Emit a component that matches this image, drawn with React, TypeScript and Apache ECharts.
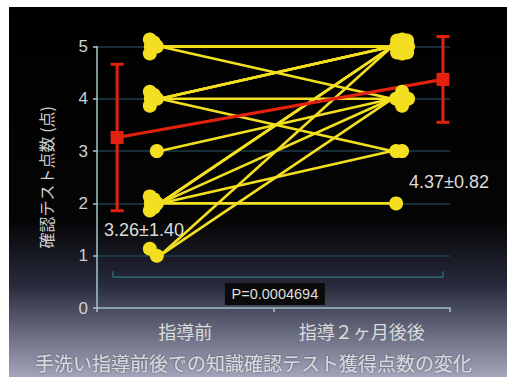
import React, { useEffect, useRef } from "react";
import * as echarts from "echarts";

// Axis categories and tick values
const categories = ["指導前", "指導２ヶ月後後"];
const yTickMax = 5;

// Test score of each participant before and two months after the instruction
const scoreBefore = [5, 5, 5, 5, 5, 4, 4, 4, 4, 4, 3, 2, 2, 2, 2, 2, 2, 1, 1];
const scoreAfter = [5, 5, 5, 5, 4, 5, 5, 5, 4, 3, 4, 2, 5, 5, 5, 4, 3, 5, 4];

// Group summary (mean ± SD) and the test result
const meanScores = [3.26, 4.37];
const sdScores = [1.4, 0.82];
const pValue = "0.0004694";

const titleText = "手洗い指導前後での知識確認テスト獲得点数の変化";
const yAxisName = "確認テスト点数 (点)";

// Horizontal placement on the hidden 0..1 value axis
const X_LEFT = 0.178;
const X_RIGHT = 0.836;
const X_ERR = [0.057, 0.98];

const YELLOW = "#f3df20";
const RED = "#e2210f";
const FONT = "'Liberation Sans', 'Noto Sans CJK JP', sans-serif";
const JP_FONT = "'Noto Sans CJK JP', sans-serif";

// Small pixel offsets so that markers of equal scores sit side by side
const leftJitter = [
  [-3, 0],
  [-10, -7],
  [-10, 7],
  [-9, 0],
  [-6, -4],
  [-6, 4],
];
const rightJitter = [
  [4, 0],
  [10, 0],
  [10, -7],
  [10, 7],
  [16, 0],
  [5, -6],
  [5, 6],
  [15, -6],
  [15, 6],
  [8, -3],
  [8, 3],
];

function jittered(scores: number[], x: number, pattern: number[][]) {
  const seen: Record<number, number> = {};
  return scores.map((s) => {
    const k = seen[s] || 0;
    seen[s] = k + 1;
    return { value: [x, s], symbolOffset: pattern[k % pattern.length] };
  });
}

export default function App() {
  const ref = useRef<HTMLDivElement>(null);

  useEffect(() => {
    if (!ref.current) return;
    const chart = echarts.init(ref.current, null, { renderer: "svg" });

    const pairSeries = scoreBefore.map((b, i) => ({
      type: "line",
      xAxisIndex: 1,
      data: [
        [X_LEFT, b],
        [X_RIGHT, scoreAfter[i]],
      ],
      symbol: "none",
      silent: true,
      lineStyle: { color: YELLOW, width: 2.6 },
      z: 3,
    }));

    const option: any = {
      animation: false,
      backgroundColor: "#ffffff",
      graphic: [
        {
          type: "rect",
          z: -100,
          silent: true,
          shape: { x: 9, y: 7, width: 498, height: 370 },
          style: {
            fill: new echarts.graphic.LinearGradient(0, 0, 0, 1, [
              { offset: 0, color: "#000000" },
              { offset: 0.58, color: "#050506" },
              { offset: 0.75, color: "#272a3b" },
              { offset: 1, color: "#a3a5bb" },
            ]),
          },
        },
      ],
      title: {
        text: titleText,
        left: "center",
        top: 348,
        textStyle: {
          color: "#d9d9df",
          fontSize: 19,
          fontWeight: "normal",
          fontFamily: JP_FONT,
          textShadowColor: "rgba(0,0,0,0.45)",
          textShadowBlur: 2,
        },
      },
      grid: { left: 97, right: 57, top: 46.5, bottom: 70 },
      xAxis: [
        {
          type: "category",
          data: categories,
          boundaryGap: true,
          axisLine: { lineStyle: { color: "#a9c3cc", width: 1.5 } },
          axisTick: { show: true, length: 4, lineStyle: { color: "#a9c3cc", width: 1.5 } },
          axisLabel: {
            color: "#dcdcdc",
            fontSize: 18,
            fontFamily: JP_FONT,
            margin: 14,
          },
          splitLine: { show: false },
        },
        {
          type: "value",
          min: 0,
          max: 1,
          show: false,
          splitLine: { show: false },
        },
      ],
      yAxis: {
        type: "value",
        min: 0,
        max: yTickMax,
        interval: 1,
        name: yAxisName,
        nameLocation: "middle",
        nameRotate: 90,
        nameGap: 43,
        nameTextStyle: { color: "#cfcfcf", fontSize: 16, fontFamily: JP_FONT },
        axisLine: { show: true, lineStyle: { color: "#a9c3cc", width: 1.5 } },
        axisTick: { show: true, length: 4, lineStyle: { color: "#a9c3cc", width: 1.5 } },
        axisLabel: { color: "#d0d0d0", fontSize: 17, fontFamily: FONT, margin: 9 },
        splitLine: { show: true, lineStyle: { color: "#1f3d4c", width: 1.5 } },
      },
      series: [
        ...pairSeries,
        {
          type: "custom",
          xAxisIndex: 1,
          clip: false,
          silent: true,
          z: 1,
          data: [[0]],
          renderItem: (_p: any, api: any) => {
            const a = api.coord([0.045, 0.59]);
            const b = api.coord([0.98, 0.59]);
            const c = api.coord([0.504, 0.27]);
            const stroke = { stroke: "#2f5f6a", lineWidth: 1.6 };
            return {
              type: "group",
              children: [
                { type: "line", shape: { x1: a[0], y1: a[1], x2: b[0], y2: b[1] }, style: stroke },
                { type: "line", shape: { x1: a[0], y1: a[1], x2: a[0], y2: a[1] - 6 }, style: stroke },
                { type: "line", shape: { x1: b[0], y1: b[1], x2: b[0], y2: b[1] - 6 }, style: stroke },
                {
                  type: "rect",
                  shape: { x: c[0] - 50, y: c[1] - 11, width: 100, height: 22 },
                  style: { fill: "#0b0b0c" },
                },
                {
                  type: "text",
                  x: c[0],
                  y: c[1],
                  style: {
                    text: "P=" + pValue,
                    fill: "#dedede",
                    fontSize: 14.5,
                    fontFamily: FONT,
                    align: "center",
                    verticalAlign: "middle",
                  },
                },
              ],
            };
          },
        },
        {
          type: "line",
          xAxisIndex: 1,
          data: [
            [X_ERR[0], meanScores[0]],
            [X_ERR[1], meanScores[1]],
          ],
          symbol: "none",
          silent: true,
          lineStyle: { color: RED, width: 3.2 },
          z: 4,
        },
        {
          type: "custom",
          xAxisIndex: 1,
          clip: false,
          silent: true,
          z: 5,
          data: X_ERR.map((x, i) => [x, meanScores[i], sdScores[i]]),
          renderItem: (_p: any, api: any) => {
            const x = api.value(0);
            const m = api.value(1);
            const s = api.value(2);
            const top = api.coord([x, m + s]);
            const bot = api.coord([x, m - s]);
            const mid = api.coord([x, m]);
            const st = { stroke: RED, lineWidth: 3 };
            const cap = 6.5;
            return {
              type: "group",
              children: [
                { type: "line", shape: { x1: top[0], y1: top[1], x2: bot[0], y2: bot[1] }, style: st },
                { type: "line", shape: { x1: top[0] - cap, y1: top[1], x2: top[0] + cap, y2: top[1] }, style: st },
                { type: "line", shape: { x1: bot[0] - cap, y1: bot[1], x2: bot[0] + cap, y2: bot[1] }, style: st },
                { type: "rect", shape: { x: mid[0] - 6.5, y: mid[1] - 6.5, width: 13, height: 13 }, style: { fill: RED } },
              ],
            };
          },
        },
        {
          type: "custom",
          xAxisIndex: 1,
          clip: false,
          silent: true,
          z: 6,
          data: [
            [0.133, 1.49, 0],
            [0.997, 2.41, 1],
          ],
          renderItem: (_p: any, api: any) => {
            const pt = api.coord([api.value(0), api.value(1)]);
            const i = api.value(2);
            return {
              type: "text",
              x: pt[0],
              y: pt[1],
              style: {
                text: meanScores[i].toFixed(2) + "±" + sdScores[i].toFixed(2),
                fill: "#dcdcdc",
                fontSize: 18,
                fontFamily: FONT,
                align: "center",
                verticalAlign: "middle",
              },
            };
          },
        },
        {
          type: "scatter",
          xAxisIndex: 1,
          symbol: "circle",
          symbolSize: 14,
          silent: true,
          z: 7,
          itemStyle: { color: YELLOW, opacity: 1 },
          data: [
            ...jittered(scoreBefore, X_LEFT, leftJitter),
            ...jittered(scoreAfter, X_RIGHT, rightJitter),
          ],
        },
      ],
    };

    chart.setOption(option);
    return () => chart.dispose();
  }, []);

  return (
    <div style={{ position: "fixed", left: 0, top: 0, width: 507, height: 378, background: "#fff" }}>
      <div ref={ref} style={{ width: 507, height: 378 }} />
    </div>
  );
}
